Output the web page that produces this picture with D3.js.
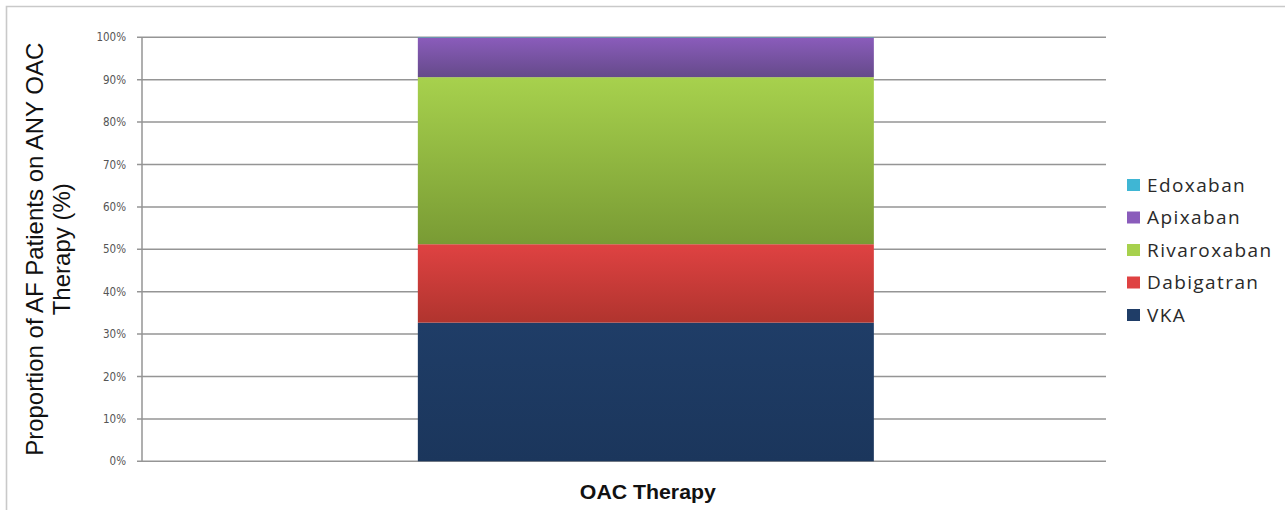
<!DOCTYPE html>
<html>
<head>
<meta charset="utf-8">
<script src="https://cdn.jsdelivr.net/npm/d3@7"></script>
<style>
  html, body { margin: 0; padding: 0; background: #fff; }
  svg { display: block; }
</style>
</head>
<body>
<script>
// Share of AF patients on oral anticoagulation, by drug (%)
const categories = ["OAC Therapy"];
const drugs = ["VKA", "Dabigatran", "Rivaroxaban", "Apixaban", "Edoxaban"];
const shares = [32.7, 18.5, 39.4, 9.3, 0.1];
const tickValues = [0, 10, 20, 30, 40, 50, 60, 70, 80, 90, 100];
const tickLabels = ["0%", "10%", "20%", "30%", "40%", "50%", "60%", "70%", "80%", "90%", "100%"];

// Fill colours: [top, bottom] of each segment's vertical gradient
const shades = {
  VKA: ["#1f3d67", "#1b365c"],
  Dabigatran: ["#df4242", "#b0342e"],
  Rivaroxaban: ["#a7d14d", "#799b34"],
  Apixaban: ["#8a5cbb", "#654a8a"],
  Edoxaban: ["#3fb6d4", "#2a93b0"]
};

const W = 1285, H = 510;
const plot = { left: 142, right: 1106, top: 37.3, bottom: 461.3 };

const svg = d3.select("body").append("svg").attr("width", W).attr("height", H);

// Outer frame
svg.append("path")
  .attr("d", `M6.5,${H} V6.5 H${W}`)
  .attr("fill", "none").attr("stroke", "#c9c9c9").attr("stroke-width", 1.6);

const y = d3.scaleLinear().domain([0, 100]).range([plot.bottom, plot.top]);
const x = d3.scaleBand().domain(categories).range([plot.left, plot.right])
  .paddingInner(0).paddingOuter(0.557).align(0.543);

// Gradients
const defs = svg.append("defs");
drugs.forEach((d, i) => {
  const g = defs.append("linearGradient").attr("id", "grad" + i)
    .attr("x1", 0).attr("y1", 0).attr("x2", 0).attr("y2", 1);
  g.append("stop").attr("offset", "0%").attr("stop-color", shades[d][0]);
  g.append("stop").attr("offset", "100%").attr("stop-color", shades[d][1]);
});

// Gridlines with short tick stubs left of the axis
svg.append("g").selectAll("line").data(tickValues).join("line")
  .attr("x1", plot.left - 5).attr("x2", plot.right)
  .attr("y1", d => y(d)).attr("y2", d => y(d))
  .attr("stroke", "#959595").attr("stroke-width", 1.5);

// Vertical axis line
svg.append("line")
  .attr("x1", plot.left).attr("x2", plot.left)
  .attr("y1", plot.top).attr("y2", plot.bottom)
  .attr("stroke", "#959595").attr("stroke-width", 1.5);

// Tick labels
svg.append("g").selectAll("text").data(tickValues).join("text")
  .attr("x", plot.left - 16).attr("y", d => y(d))
  .attr("dy", "0.35em").attr("text-anchor", "end")
  .attr("font-family", "'DejaVu Sans Condensed', 'DejaVu Sans', sans-serif")
  .attr("font-size", 11.5).attr("fill", "#555")
  .text((d, i) => tickLabels[i]);

// Stacked bar
const stackRows = categories.map(c => {
  const row = { cat: c };
  drugs.forEach((d, i) => row[d] = shares[i]);
  return row;
});
const series = d3.stack().keys(drugs)(stackRows);

svg.append("g").selectAll("g").data(series).join("g")
  .attr("fill", (s, i) => `url(#grad${i})`)
  .selectAll("rect").data(s => s).join("rect")
  .attr("x", d => x(d.data.cat))
  .attr("width", x.bandwidth())
  .attr("y", d => y(d[1]))
  .attr("height", d => y(d[0]) - y(d[1]));

// X axis title
svg.append("text")
  .attr("x", x(categories[0]) + x.bandwidth() / 2 + 2).attr("y", 499)
  .attr("text-anchor", "middle")
  .attr("font-family", "'Liberation Sans', Arial, sans-serif")
  .attr("font-weight", "bold").attr("font-size", 20).attr("fill", "#111")
  .attr("textLength", 136).attr("lengthAdjust", "spacingAndGlyphs")
  .text(categories[0]);

// Y axis title (two lines)
const yTitle = svg.append("text")
  .attr("transform", `translate(0,${(plot.top + plot.bottom) / 2}) rotate(-90)`)
  .attr("text-anchor", "middle")
  .attr("font-family", "'Liberation Sans', Arial, sans-serif")
  .attr("font-size", 24).attr("fill", "#111");
yTitle.append("tspan").attr("x", 0).attr("y", 43).text("Proportion of AF Patients on ANY OAC");
yTitle.append("tspan").attr("x", 0).attr("y", 70).text("Therapy (%)");

// Legend, top entry is the last series
const legendOrder = drugs.slice().reverse();
const legend = svg.append("g").selectAll("g").data(legendOrder).join("g")
  .attr("transform", (d, i) => `translate(1127,${185 + i * 32.5})`);
legend.append("rect")
  .attr("x", 0).attr("y", -6).attr("width", 13).attr("height", 12)
  .attr("fill", d => shades[d][0]);
legend.append("text")
  .attr("x", 20).attr("y", 0).attr("dy", "0.36em")
  .attr("font-family", "'Open Sans', sans-serif")
  .attr("font-size", 19).attr("letter-spacing", 1.4).attr("fill", "#2a2a2a")
  .text(d => d);
</script>
</body>
</html>
